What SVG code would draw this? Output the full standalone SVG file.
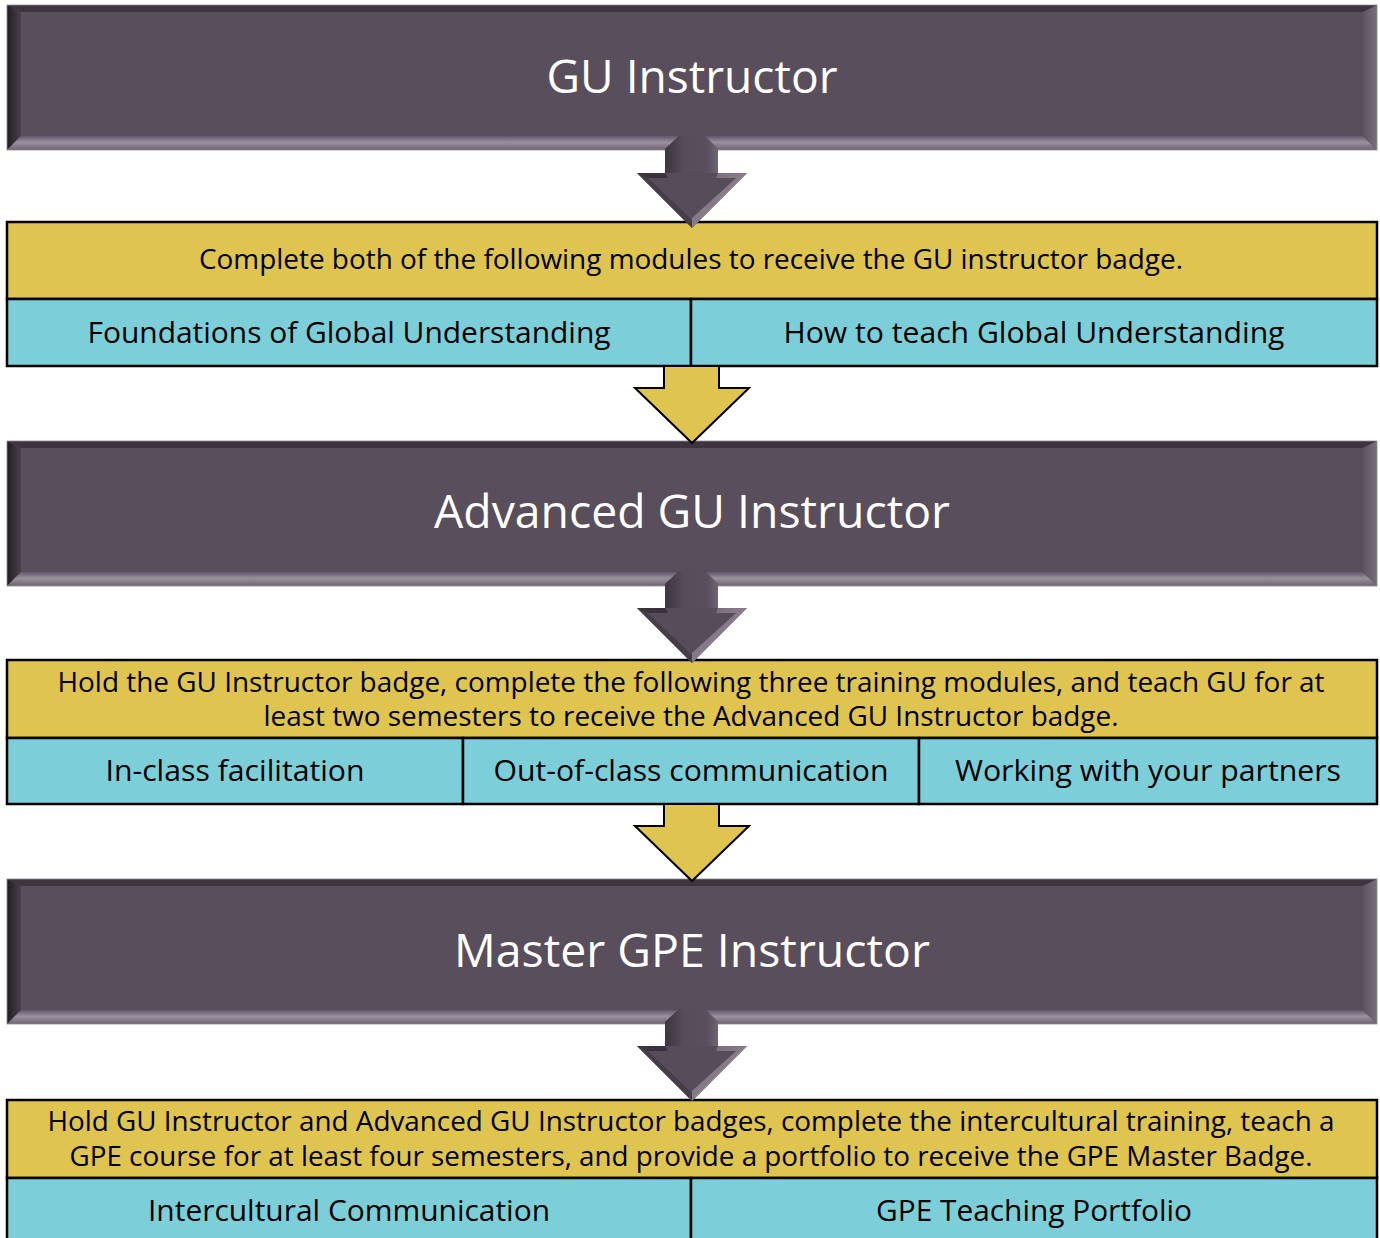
<svg xmlns="http://www.w3.org/2000/svg" width="1380" height="1238" viewBox="0 0 1380 1238">
<style>
.title{font-family:"Open Sans","Liberation Sans",sans-serif;font-size:46px;fill:#ffffff;text-anchor:middle}
.req{font-family:"Open Sans","Liberation Sans",sans-serif;font-size:27px;fill:#000;text-anchor:middle}
.mod{font-family:"Open Sans","Liberation Sans",sans-serif;font-size:29px;fill:#000;text-anchor:middle}
.yel{fill:#dfc44f;stroke:#000;stroke-width:2.5}
.cy{fill:#7ccfd8;stroke:#000;stroke-width:2.5}
.yarrow{fill:#dfc44f;stroke:#000;stroke-width:2;stroke-linejoin:miter}
</style>
<defs>
<linearGradient id="gLeft" x1="0" y1="0" x2="1" y2="0">
<stop offset="0" stop-color="#221c24"/><stop offset="1" stop-color="#4a404c"/>
</linearGradient>
<linearGradient id="gBot" x1="0" y1="0" x2="0" y2="1">
<stop offset="0" stop-color="#62576a"/><stop offset="0.45" stop-color="#9b909e"/><stop offset="1" stop-color="#6e6371"/>
</linearGradient>
<linearGradient id="gRight" x1="0" y1="0" x2="1" y2="0">
<stop offset="0" stop-color="#5d5260"/><stop offset="1" stop-color="#7a6f7c"/>
</linearGradient>
<linearGradient id="gShaft" x1="0" y1="0" x2="1" y2="0">
<stop offset="0" stop-color="#3e3541"/><stop offset="0.35" stop-color="#574c59"/><stop offset="0.8" stop-color="#5a4f5c"/><stop offset="1" stop-color="#6f6472"/>
</linearGradient>
<g id="banner">
<rect x="7" y="5" width="1370" height="145" fill="#594e5b"/>
<polygon points="7,5 1377,5 1363,12 21,12" fill="#3d3440"/>
<polygon points="7,5 21,12 21,136 7,150" fill="url(#gLeft)"/>
<polygon points="7,150 21,136 1363,136 1377,150" fill="url(#gBot)"/>
<polygon points="1377,5 1377,150 1363,136 1363,12" fill="url(#gRight)"/>
<rect x="7" y="5" width="1370" height="145" fill="none" stroke="#8c8890" stroke-width="0.8"/>
</g>
<linearGradient id="gHead" x1="0" y1="0" x2="1" y2="1">
<stop offset="0" stop-color="#6d6270"/><stop offset="1" stop-color="#a497a6"/>
</linearGradient>
<g id="darrow">
<polygon points="679,136 705,136 718,149 718,173 747,173 692,228 637,173 665,173 665,149" fill="#574c59"/>
<polygon points="665,149 679,136 705,136 718,149 718,173 665,173" fill="url(#gShaft)"/>
<polygon points="637,173 665,173 668,178 648,178" fill="#3a323c"/>
<polygon points="718,173 747,173 692,228 692,218 736,178 716,178" fill="url(#gHead)"/>
<polygon points="637,173 648,178 692,220 692,228" fill="#463d49"/>
</g>
</defs>

<g id="node-gu-instructor">
<use href="#banner"/>
<text class="title" x="692" y="93" textLength="291" lengthAdjust="spacingAndGlyphs">GU Instructor</text>
</g>

<g id="node-gu-requirements">
<rect class="yel" x="7" y="222" width="1370" height="77"/>
<text class="req" x="691" y="269" textLength="984" lengthAdjust="spacingAndGlyphs">Complete both of the following modules to receive the GU instructor badge.</text>
</g>
<g id="node-foundations">
<rect class="cy" x="7" y="299" width="684" height="67"/>
<text class="mod" x="349" y="343" textLength="523" lengthAdjust="spacingAndGlyphs">Foundations of Global Understanding</text>
</g>
<g id="node-how-to-teach">
<rect class="cy" x="691" y="299" width="686" height="67"/>
<text class="mod" x="1034" y="343" textLength="501" lengthAdjust="spacingAndGlyphs">How to teach Global Understanding</text>
</g>

<g id="node-advanced">
<use href="#banner" y="436"/>
<text class="title" x="692" y="528" textLength="516" lengthAdjust="spacingAndGlyphs">Advanced GU Instructor</text>
</g>

<g id="node-advanced-requirements">
<rect class="yel" x="7" y="660" width="1370" height="78"/>
<text class="req" x="691" y="692" textLength="1267" lengthAdjust="spacingAndGlyphs">Hold the GU Instructor badge, complete the following three training modules, and teach GU for at</text>
<text class="req" x="691" y="726" textLength="855" lengthAdjust="spacingAndGlyphs">least two semesters to receive the Advanced GU Instructor badge.</text>
</g>
<g id="node-in-class">
<rect class="cy" x="7" y="738" width="456" height="66"/>
<text class="mod" x="235" y="781" textLength="259" lengthAdjust="spacingAndGlyphs">In-class facilitation</text>
</g>
<g id="node-out-of-class">
<rect class="cy" x="463" y="738" width="456" height="66"/>
<text class="mod" x="691" y="781" textLength="395" lengthAdjust="spacingAndGlyphs">Out-of-class communication</text>
</g>
<g id="node-partners">
<rect class="cy" x="919" y="738" width="458" height="66"/>
<text class="mod" x="1148" y="781" textLength="386" lengthAdjust="spacingAndGlyphs">Working with your partners</text>
</g>

<g id="node-master">
<use href="#banner" y="874"/>
<text class="title" x="692" y="967" textLength="476" lengthAdjust="spacingAndGlyphs">Master GPE Instructor</text>
</g>

<g id="node-master-requirements">
<rect class="yel" x="7" y="1100" width="1370" height="78"/>
<text class="req" x="691" y="1131" textLength="1287" lengthAdjust="spacingAndGlyphs">Hold GU Instructor and Advanced GU Instructor badges, complete the intercultural training, teach a</text>
<text class="req" x="691" y="1166" textLength="1243" lengthAdjust="spacingAndGlyphs">GPE course for at least four semesters, and provide a portfolio to receive the GPE Master Badge.</text>
</g>
<g id="node-intercultural">
<rect class="cy" x="7" y="1178" width="684" height="70"/>
<text class="mod" x="349" y="1221" textLength="402" lengthAdjust="spacingAndGlyphs">Intercultural Communication</text>
</g>
<g id="node-portfolio">
<rect class="cy" x="691" y="1178" width="686" height="70"/>
<text class="mod" x="1034" y="1221" textLength="316" lengthAdjust="spacingAndGlyphs">GPE Teaching Portfolio</text>
</g>

<g id="connectors">
<use href="#darrow"/>
<polygon class="yarrow" points="664,366 719,366 719,388 749,388 692,443 635,388 664,388"/>
<use href="#darrow" y="435"/>
<polygon class="yarrow" points="664,804 719,804 719,826 749,826 692,881 635,826 664,826"/>
<use href="#darrow" y="873"/>
</g>
</svg>
